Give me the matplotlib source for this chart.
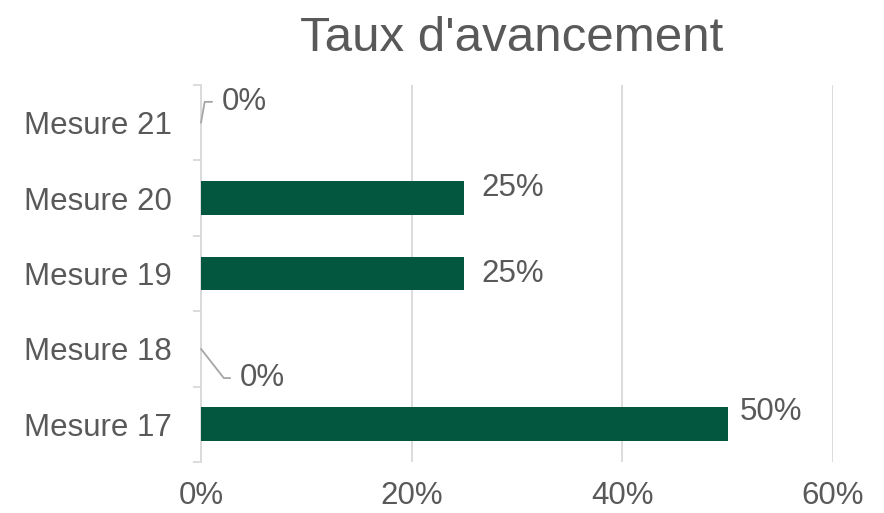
import matplotlib.pyplot as plt
import matplotlib.ticker as mticker
import numpy as np

plt.rcParams['font.family'] = ['Liberation Sans', 'DejaVu Sans']

# data
categories = ['Mesure 17', 'Mesure 18', 'Mesure 19', 'Mesure 20', 'Mesure 21']
avancement = [0.50, 0.0, 0.25, 0.25, 0.0]
title = "Taux d'avancement"

# label placement (offset points) and leader angle (None = no leader)
label_offsets = [(9, 9), (28, -21), (12, 0), (12, 7), (15, 15)]
leader_angles = [None, -52, None, None, 80]

TEXT = '#595959'
GREEN = '#03573F'
GRID = '#D9D9D9'

fig = plt.figure(figsize=(8.84, 5.13), dpi=100)
ax = fig.add_axes([0.2274, 0.0994, 0.7149, 0.7349])

y = np.arange(len(categories))
ax.barh(y, avancement, height=0.45, color=GREEN, zorder=3)

ax.set_xlim(0, 0.6)
ax.set_ylim(-0.5, len(categories) - 0.5)
ax.xaxis.set_major_locator(mticker.MultipleLocator(0.2))
ax.xaxis.set_major_formatter(mticker.PercentFormatter(1.0, decimals=0))
ax.set_yticks(y)
ax.set_yticklabels(categories)
ax.set_yticks(np.arange(len(categories) + 1) - 0.5, minor=True)

ax.grid(axis='x', color=GRID, linewidth=1.3, zorder=0)
for s in ['top', 'right', 'bottom']:
    ax.spines[s].set_visible(False)
ax.spines['left'].set_color(GRID)
ax.spines['left'].set_linewidth(1.3)

ax.tick_params(axis='x', length=0, pad=14, labelsize=22.5, labelcolor=TEXT)
ax.tick_params(axis='y', which='major', length=0, pad=21, labelsize=22.5, labelcolor=TEXT)
ax.tick_params(axis='y', which='minor', length=6, width=1.3, color=GRID)

for i, v in enumerate(avancement):
    dx, dy = label_offsets[i]
    ang = leader_angles[i]
    props = None
    if ang is not None:
        props = dict(arrowstyle='-', color='#A6A6A6', lw=1.3,
                     connectionstyle=f'angle,angleA=0,angleB={ang},rad=0',
                     shrinkA=5, shrinkB=0, relpos=(0, 0.5))
    ax.annotate(f'{v:.0%}', xy=(v, i), xytext=(dx, dy), textcoords='offset points',
                ha='left', va='center', fontsize=22.5, color=TEXT,
                arrowprops=props, annotation_clip=False, zorder=4)

fig.text(0.579, 0.924, title, ha='center', va='center', fontsize=35.5, color=TEXT)

fig.savefig('out.png', dpi=100)
